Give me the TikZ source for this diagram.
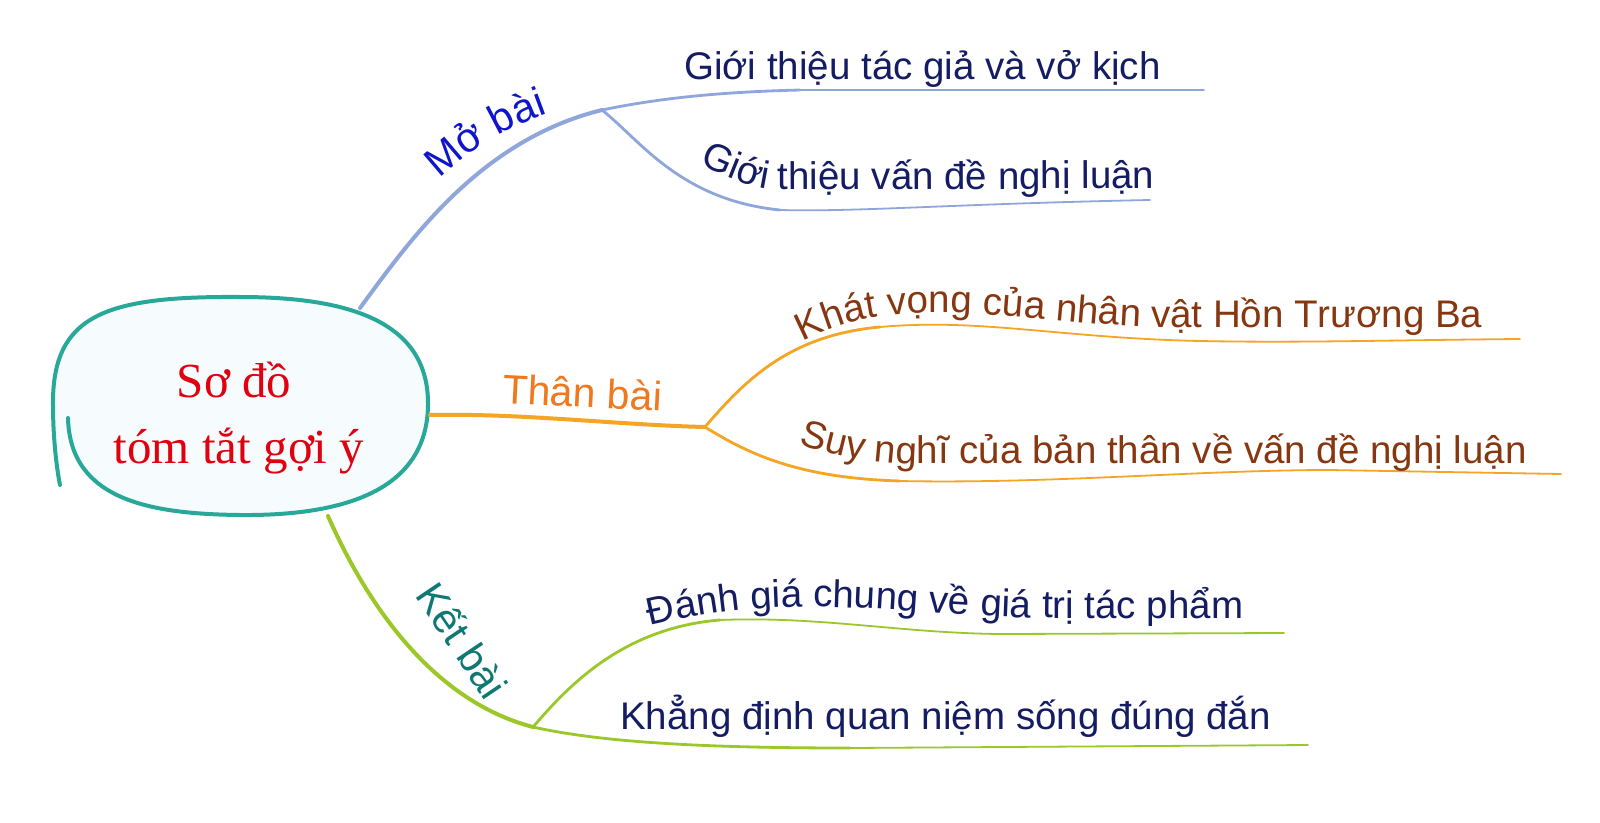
\documentclass[tikz,border=0pt]{standalone}
\usepackage{fontspec}
\setmainfont{Liberation Sans}
\newfontfamily\serifc{Liberation Serif}
\usetikzlibrary{decorations.text}
\definecolor{blueline}{RGB}{142,166,219}
\definecolor{bluetext}{RGB}{15,20,205}
\definecolor{navy}{RGB}{20,28,100}
\definecolor{orangeline}{RGB}{245,165,35}
\definecolor{orangetext}{RGB}{240,120,30}
\definecolor{browntext}{RGB}{135,55,15}
\definecolor{greenline}{RGB}{155,200,40}
\definecolor{tealtext}{RGB}{15,120,115}
\definecolor{blobline}{RGB}{40,168,152}
\definecolor{blobfill}{RGB}{246,251,253}
\definecolor{redtext}{RGB}{225,0,15}
\newcommand\leafsize{\fontsize{38.5}{46}\selectfont}
\newcommand\branchsize{\fontsize{41}{49}\selectfont}
\begin{document}
\begin{tikzpicture}[x=1pt,y=-1pt,
  branchline/.style={line width=4pt, line cap=round},
  twig/.style={line width=2.8pt, line cap=round},
  tail/.style={line width=1.8pt, line cap=round},
  leaf/.style={font=\leafsize, inner sep=0pt, anchor=base west},
  centertext/.style={font=\serifc\fontsize{49}{60}\selectfont, text=redtext, inner sep=0pt, anchor=base}]
\useasboundingbox (0,0) rectangle (1600,822);
\fill[white] (0,0) rectangle (1600,822);

% central blob
\filldraw[line width=4pt, draw=blobline, fill=blobfill, line cap=round]
 (68,418) .. controls (70,500) and (150,514) .. (240,515)
 .. controls (345,516) and (427,490) .. (428,405)
 .. controls (429,322) and (350,297) .. (240,297)
 .. controls (105,296) and (52,315) .. (53,405)
 .. controls (53,440) and (57,470) .. (60,485);
\node[centertext] (c1) at (234,397) {Sơ đồ};
\node[centertext] (c2) at (239,463) {tóm tắt gợi ý};

% coordinates
\coordinate (rA) at (360,308);
\coordinate (fA) at (602,110);
\coordinate (eA1) at (1204,90);
\coordinate (eA2) at (1150,200);
\coordinate (rB) at (430,415);
\coordinate (fB) at (705,427);
\coordinate (eB1) at (1520,339);
\coordinate (eB2) at (1561,474);
\coordinate (rC) at (328,516);
\coordinate (fC) at (533,727);
\coordinate (eC1) at (1284,633);
\coordinate (eC2) at (1308,745);

% Mở bài
\draw[branchline, blueline] (rA) .. controls (410,240) and (480,140) .. (fA);
\draw[twig, blueline] (fA) .. controls (660,98) and (720,92) .. (800,90);
\draw[tail, blueline] (800,90) -- (eA1);
\draw[twig, blueline] (fA) .. controls (640,140) and (680,200) .. (780,210);
\draw[tail, blueline] (780,210) .. controls (860,212) and (950,204) .. (eA2);

% Thân bài
\draw[branchline, orangeline] (rB) .. controls (520,413) and (620,425) .. (fB);
\draw[twig, orangeline] (fB) .. controls (745,380) and (790,335) .. (880,327);
\draw[tail, orangeline] (880,327) .. controls (980,318) and (1060,338) .. (1200,341)
  .. controls (1300,343) and (1400,340) .. (eB1);
\draw[twig, orangeline] (fB) .. controls (750,455) and (800,478) .. (900,481);
\draw[tail, orangeline] (900,481) .. controls (1050,484) and (1200,470) .. (1330,470) -- (eB2);

% Kết bài
\draw[branchline, greenline] (rC) .. controls (365,600) and (430,700) .. (fC);
\draw[twig, greenline] (fC) .. controls (565,690) and (620,628) .. (720,620);
\draw[tail, greenline] (720,620) .. controls (820,616) and (900,633) .. (1000,634) -- (eC1);
\draw[twig, greenline] (fC) .. controls (600,742) and (700,748) .. (850,748);
\draw[tail, greenline] (850,748) -- (eC2);

% branch labels
\path[decorate, decoration={text along path, text align=left,
  text={|\branchsize\color{bluetext}|Mở bài}}]
  (440,179) .. controls (478,143) and (520,120) .. (570,106) -- (660,88);
\node[font=\branchsize, text=orangetext, inner sep=0pt, anchor=base west, rotate=-3] (lB) at (502,403) {Thân bài};
\node[font=\branchsize, text=tealtext, inner sep=0pt, rotate=-56] (lC) at (463,640) {Kết bài};

% leaves
\node[leaf, text=navy] (a1) at (684,79) {Giới thiệu tác giả và vở kịch};
\path[decorate, decoration={text along path, text align=left,
  text={|\leafsize\color{navy}|Giới thiệu vấn đề nghị luận}}]
  (699,165) .. controls (725,176) and (745,187) .. (775,190) -- (1300,188);
\path[decorate, decoration={text along path, text align=left,
  text={|\leafsize\color{browntext}|Khát vọng của nhân vật Hồn Trương Ba}}]
  (803,342) .. controls (835,325) and (870,314) .. (930,313)
  .. controls (1000,312) and (1070,324) .. (1150,327) -- (1600,328);
\path[decorate, decoration={text along path, text align=left,
  text={|\leafsize\color{browntext}|Suy nghĩ của bản thân về vấn đề nghị luận}}]
  (799,444) .. controls (825,452) and (855,462) .. (910,464) -- (1600,463);
\path[decorate, decoration={text along path, text align=left,
  text={|\leafsize\color{navy}|Đánh giá chung về giá trị tác phẩm}}]
  (650,626) .. controls (700,614) and (750,606) .. (820,607)
  .. controls (900,608) and (960,617) .. (1050,618) -- (1400,618);
\node[leaf, text=navy] (c6) at (620,729) {Khẳng định quan niệm sống đúng đắn};
\end{tikzpicture}
\end{document}
